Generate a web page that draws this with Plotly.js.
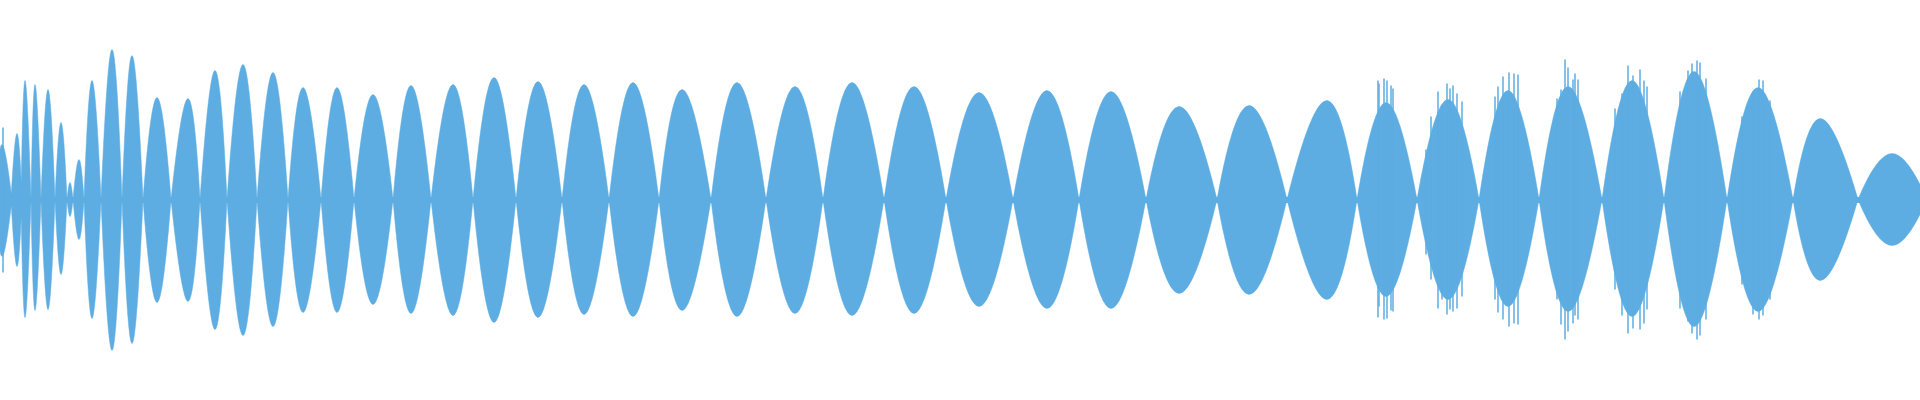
<!DOCTYPE html>
<html>
<head>
<meta charset="utf-8">
<script src="https://cdn.plot.ly/plotly-3.0.1.min.js"></script>
<style>
html,body{margin:0;padding:0;background:#ffffff;}
#chart{width:1920px;height:400px;}
</style>
</head>
<body>
<div id="chart"></div>
<script>
// Envelope lobes of the waveform (one entry per lobe)
const lobeStart  = [-4, 11, 21, 31, 41, 55, 67, 73, 84, 101, 122, 143, 171, 200, 227, 257, 288, 321, 354, 393, 431, 473, 516, 562, 609, 659, 711, 766, 823, 884, 946, 1013, 1079, 1146, 1217, 1287, 1357, 1417, 1479, 1539, 1602, 1664, 1727, 1793, 1858];
const lobePeak   = [2, 17, 25, 35, 48, 61, 70, 79, 92, 112, 132, 157, 188, 215, 243, 273, 303, 337, 373, 411, 453, 494, 538, 584, 633, 682, 737, 795, 852, 914, 979, 1047, 1111, 1179, 1249, 1327, 1386, 1448, 1508, 1568, 1632, 1694, 1758, 1820, 1892];
const lobeEnd    = [12, 22, 31, 41, 55, 67, 73, 84, 101, 122, 143, 171, 200, 227, 257, 288, 321, 354, 393, 431, 473, 516, 562, 609, 659, 711, 766, 823, 884, 946, 1013, 1079, 1146, 1217, 1287, 1357, 1417, 1479, 1539, 1602, 1664, 1727, 1793, 1858, 1927];
const lobeTop    = [55, 66, 119, 115, 110, 77, 17, 40, 119, 150, 144, 102, 101, 129, 135, 127, 112, 112, 105, 114, 115, 122, 118, 115, 117, 110, 117, 113, 117, 113, 107, 109, 108, 93, 94, 99, 97, 100, 109, 113, 119, 128, 112, 81, 46];
const lobeBottom = [57, 67, 118, 111, 110, 75, 17, 40, 119, 151, 144, 103, 102, 130, 136, 127, 113, 113, 105, 114, 116, 123, 118, 115, 117, 111, 117, 114, 116, 114, 107, 109, 109, 94, 95, 100, 97, 100, 107, 112, 117, 127, 112, 81, 46];

// Isolated peaks (noisy section and the first transient)
const spikeX      = [3, 1378, 1379, 1384, 1387, 1391, 1393, 1426, 1431, 1438, 1442, 1447, 1450, 1453, 1457, 1462, 1495, 1498, 1503, 1509, 1514, 1518, 1557, 1561, 1565, 1568, 1573, 1575, 1578, 1615, 1622, 1628, 1633, 1640, 1644, 1647, 1680, 1688, 1692, 1697, 1700, 1706, 1742, 1753, 1759, 1763, 1770];
const spikeTop    = [72, 119, 116, 121, 119, 114, 111, 50, 83, 108, 94, 116, 111, 114, 106, 98, 103, 113, 123, 127, 126, 125, 101, 110, 140, 132, 120, 126, 120, 91, 106, 134, 124, 130, 119, 113, 108, 129, 136, 139, 137, 121, 83, 108, 120, 119, 99];
const spikeBottom = [73, 118, 107, 120, 119, 111, 112, 55, 80, 109, 100, 115, 110, 112, 109, 97, 100, 113, 120, 127, 124, 125, 100, 125, 140, 132, 124, 116, 120, 90, 116, 134, 129, 130, 124, 110, 109, 122, 134, 140, 136, 120, 85, 115, 120, 116, 100];

const BLUE = '#5DADE2';

const topX = [], topY = [], botX = [], botY = [];
for (let i = 0; i < lobeStart.length; i++) {
  topX.push(lobeStart[i], lobePeak[i], lobeEnd[i], null);
  topY.push(0, lobeTop[i], 0, null);
  botX.push(lobeStart[i], lobePeak[i], lobeEnd[i], null);
  botY.push(0, -lobeBottom[i], 0, null);
}
const sX = [], sY = [];
for (let i = 0; i < spikeX.length; i++) {
  sX.push(spikeX[i], spikeX[i], null);
  sY.push(spikeTop[i], -spikeBottom[i], null);
}

const lobeStyle = {
  type: 'scatter', mode: 'lines', fill: 'toself', fillcolor: BLUE,
  line: {color: BLUE, width: 0.5, shape: 'spline', smoothing: 1.3},
  connectgaps: false, hoverinfo: 'skip', showlegend: false
};

const data = [
  Object.assign({x: topX, y: topY}, lobeStyle),
  Object.assign({x: botX, y: botY}, lobeStyle),
  {type: 'scatter', mode: 'lines', x: sX, y: sY, connectgaps: false,
   line: {color: BLUE, width: 1.5}, hoverinfo: 'skip', showlegend: false}
];

const layout = {
  width: 1920, height: 400,
  margin: {l: 0, r: 0, t: 0, b: 0, pad: 0},
  paper_bgcolor: '#ffffff', plot_bgcolor: '#ffffff',
  showlegend: false,
  xaxis: {range: [0, 1920], visible: false, fixedrange: true},
  yaxis: {range: [-200.5, 199.5], showgrid: false, showline: false, showticklabels: false,
          ticks: '', zeroline: true, zerolinecolor: BLUE, zerolinewidth: 6, fixedrange: true}
};

Plotly.newPlot('chart', data, layout, {staticPlot: true, displayModeBar: false});
</script>
</body>
</html>
